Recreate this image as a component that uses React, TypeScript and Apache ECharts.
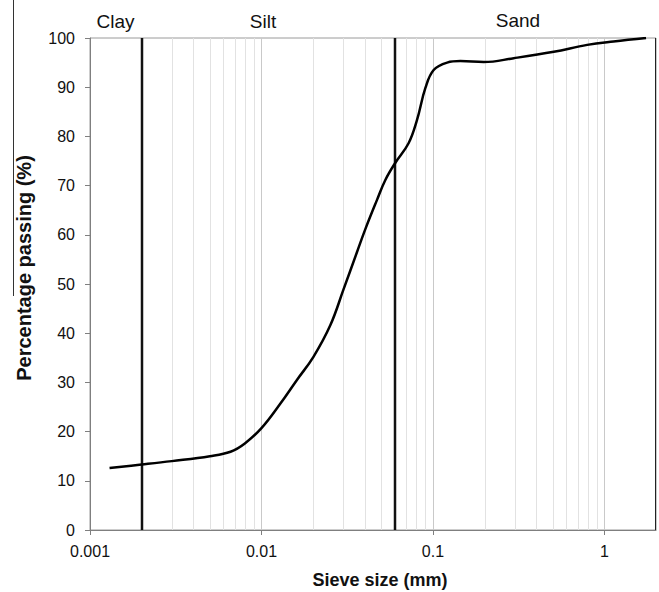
import React, { useEffect, useRef } from "react";
import * as echarts from "echarts";

// Particle size distribution (sieve size in mm, percentage passing)
const sieveSizes = [
  0.0013, 0.002, 0.003, 0.005, 0.0066, 0.008, 0.01, 0.0129, 0.0161, 0.0201,
  0.0252, 0.0301, 0.036, 0.0403, 0.0472, 0.0527, 0.06, 0.0721, 0.0807, 0.0903,
  0.101, 0.121, 0.1445, 0.198, 0.296, 0.507, 0.794, 1.13, 1.75,
];
const percentPassing = [
  12.6, 13.3, 14.0, 15.0, 15.9, 17.6, 20.7, 25.7, 30.5, 35.2,
  41.6, 48.9, 56.4, 61.1, 67.1, 71.1, 74.5, 78.6, 83.3, 89.8,
  93.5, 95.0, 95.3, 95.1, 95.9, 97.2, 98.6, 99.3, 100,
];
const minorGridSizes = [
  0.003, 0.004, 0.005, 0.006, 0.007, 0.008, 0.009,
  0.02, 0.03, 0.04, 0.05, 0.07, 0.08, 0.09,
  0.2, 0.3, 0.4, 0.5, 0.6, 0.7, 0.8, 0.9,
];
const classBoundaries = [0.002, 0.06];
const classLabels = ["Clay", "Silt", "Sand"];
const xTitle = "Sieve size (mm)";
const yTitle = "Percentage passing (%)";
const xMin = 0.001;
const xMax = 2;
const yMin = 0;
const yMax = 100;

const FONT = "'Liberation Sans', Arial, Helvetica, sans-serif";

function vLineSeries(values: number[], color: string, width: number, z: number) {
  return {
    type: "custom",
    silent: true,
    z,
    clip: true,
    data: values.map((v) => [v, yMin]),
    encode: { x: 0, y: 1 },
    renderItem: (params: any, api: any) => {
      const v = api.value(0);
      const p0 = api.coord([v, yMin]);
      const p1 = api.coord([v, yMax]);
      const x = Math.round(p0[0]) + (width % 2 === 1 ? 0.5 : 0);
      return {
        type: "line",
        shape: { x1: x, y1: p0[1], x2: x, y2: p1[1] },
        style: { stroke: color, lineWidth: width },
      };
    },
  };
}

export default function App() {
  const ref = useRef<HTMLDivElement>(null);
  useEffect(() => {
    if (!ref.current) return;
    const chart = echarts.init(ref.current, undefined, { renderer: "svg" });
    const data = sieveSizes.map((s, i) => [s, percentPassing[i]]);
    chart.setOption({
      animation: false,
      backgroundColor: "#fff",
      grid: {
        left: 90,
        right: 3,
        top: 38,
        bottom: 62,
        show: true,
        borderColor: "#9a9a9a",
        borderWidth: 1,
      },
      xAxis: {
        type: "log",
        logBase: 10,
        min: xMin,
        max: xMax,
        axisLine: { show: true, lineStyle: { color: "#7f7f7f", width: 1 } },
        axisTick: { show: true, inside: false, length: 5, lineStyle: { color: "#7f7f7f" } },
        splitLine: { show: true, lineStyle: { color: "#c9c9c9", width: 1 } },
        minorTick: { show: false },
        axisLabel: {
          margin: 13,
          fontSize: 16,
          color: "#111",
          fontFamily: FONT,
          showMaxLabel: false,
          formatter: (v: number) => {
            const l = Math.log10(v);
            if (Math.abs(l - Math.round(l)) > 1e-6) return "";
            return String(Number(v.toPrecision(6)));
          },
        },
      },
      yAxis: {
        type: "value",
        min: yMin,
        max: yMax,
        interval: 10,
        axisLine: { show: true, lineStyle: { color: "#7f7f7f", width: 1 } },
        axisTick: { show: true, inside: false, length: 5, lineStyle: { color: "#7f7f7f" } },
        splitLine: { show: false },
        axisLabel: { margin: 15, fontSize: 16, color: "#111", fontFamily: FONT },
      },
      series: [
        vLineSeries(minorGridSizes, "#e2e2e2", 1, 1),
        vLineSeries(classBoundaries, "#111", 2.5, 3),
        vLineSeries([xMax], "#222", 2, 3),
        {
          type: "line",
          name: "passing",
          data,
          z: 5,
          showSymbol: false,
          smooth: 0.4,
          lineStyle: { color: "#000", width: 2.5 },
        },
      ],
      graphic: [
        {
          type: "line",
          shape: { x1: 13.5, y1: 0, x2: 13.5, y2: 296 },
          style: { stroke: "#333", lineWidth: 1 },
        },
        {
          type: "text",
          x: 115.5,
          y: 21,
          style: { text: classLabels[0], font: `19px ${FONT}`, fill: "#111", align: "center", verticalAlign: "middle" },
        },
        {
          type: "text",
          x: 263,
          y: 21,
          style: { text: classLabels[1], font: `19px ${FONT}`, fill: "#111", align: "center", verticalAlign: "middle" },
        },
        {
          type: "text",
          x: 518,
          y: 20,
          style: { text: classLabels[2], font: `19px ${FONT}`, fill: "#111", align: "center", verticalAlign: "middle" },
        },
        {
          type: "text",
          x: 380,
          y: 580,
          style: { text: xTitle, font: `bold 18px ${FONT}`, fill: "#111", align: "center", verticalAlign: "middle" },
        },
        {
          type: "text",
          x: 24,
          y: 268,
          rotation: Math.PI / 2,
          style: { text: yTitle, font: `bold 20px ${FONT}`, fill: "#111", align: "center", verticalAlign: "middle" },
        },
      ],
    });
    return () => chart.dispose();
  }, []);
  return (
    <div
      ref={ref}
      style={{ position: "fixed", left: 0, top: 0, width: 659, height: 592, background: "#fff" }}
    />
  );
}
